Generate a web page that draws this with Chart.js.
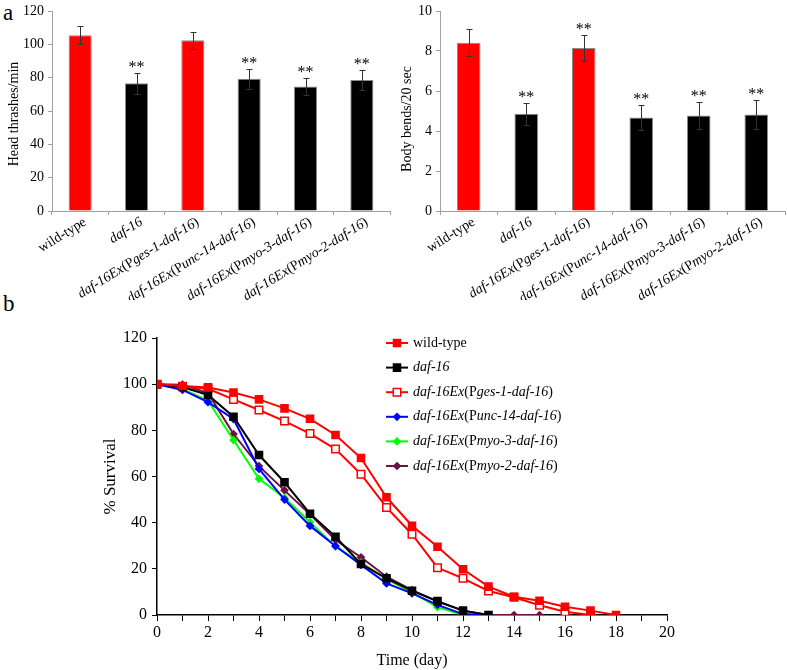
<!DOCTYPE html>
<html><head><meta charset="utf-8">
<script src="https://cdn.jsdelivr.net/npm/chart.js@4.4.0/dist/chart.umd.min.js"></script>
<style>
html,body{margin:0;padding:0;background:#fff;width:787px;height:670px;overflow:hidden;font-family:"Liberation Serif","Times New Roman",serif;}
.box{position:absolute;}
.panel{position:absolute;font-family:"Liberation Serif",serif;font-size:23px;line-height:23px;color:#000;}
</style></head><body>
<div class="panel" style="left:3px;top:1px">a</div>
<div class="panel" style="left:3px;top:292px">b</div>
<div class="box" style="left:0;top:0;width:392px;height:300px"><canvas id="c1"></canvas></div>
<div class="box" style="left:390px;top:0;width:397px;height:300px"><canvas id="c2"></canvas></div>
<div class="box" style="left:0;top:300px;width:787px;height:370px"><canvas id="c3"></canvas></div>
<script>
// ---------- DATA ----------
const strains = ['wild-type','daf-16','daf-16Ex(Pges-1-daf-16)','daf-16Ex(Punc-14-daf-16)','daf-16Ex(Pmyo-3-daf-16)','daf-16Ex(Pmyo-2-daf-16)'];
const headThrashes = [105.5, 76.7, 102.5, 79.4, 74.7, 78.6];
const headThrashesErr = [5.5, 6.3, 5.0, 6.1, 5.3, 6.0];
const headStars = ['', '**', '', '**', '**', '**'];
const bodyBends = [8.41, 4.86, 8.15, 4.68, 4.78, 4.83];
const bodyBendsErr = [0.68, 0.55, 0.65, 0.62, 0.68, 0.72];
const bodyStars = ['', '**', '**', '**', '**', '**'];
const barColors = ['#FF0000','#000000','#FF0000','#000000','#000000','#000000'];

const days = [0,1,2,3,4,5,6,7,8,9,10,11,12,13,14,15,16,17,18];
const survWildType = [100, 99.2, 98.6, 96.4, 93.4, 89.5, 85, 78, 68, 51, 38.7, 29.6, 19.8, 12.3, 7.9, 6.2, 3.6, 1.9, 0];
const survDaf16    = [100, 98.8, 95.3, 85.9, 69.3, 57.5, 43.9, 33.9, 22.1, 15.9, 10.5, 6, 1.9, 0];
const survPges1    = [100, 99, 98, 93.4, 88.8, 84, 78.6, 71.9, 61, 46.6, 35, 20.5, 15.9, 10.4, 7.7, 4.2, 1.4, 0];
const survPunc14   = [100, 97.5, 92.2, 84.9, 63.3, 50, 38.6, 29.9, 21.7, 13.7, 9.4, 4.4, 0.4, 0];
const survPmyo3    = [100, 97.9, 92.8, 75.8, 59, 50.8, 40.2, 29.6, 22.7, 15.5, 9.8, 3.4, 0, 0];
const survPmyo2    = [100, 99.8, 96.1, 78.4, 64.5, 54, 43.6, 32.5, 25, 16.6, 10.8, 5.8, 1.9, 0, 0, 0];
const survTicks = [0,20,40,60,80,100,120];

// ---------- HELPERS ----------
const SERIF = '"Liberation Serif","Times New Roman",serif';
Chart.defaults.font.family = SERIF;
Chart.defaults.color = '#000';

function segments(label){
  if (label === 'wild-type') return [{t:label, it:false}];
  return label.split(/(\(P|\))/).filter(s => s.length).map(s => ({t:s, it: !(s === '(P' || s === ')')}));
}
function drawMixed(ctx, label, x, y, size, align){
  const segs = segments(label);
  let total = 0;
  segs.forEach(s => { ctx.font = (s.it ? 'italic ' : '') + size + 'px ' + SERIF; s.w = ctx.measureText(s.t).width; total += s.w; });
  let cx = align === 'right' ? x - total : x;
  ctx.textAlign = 'left';
  segs.forEach(s => { ctx.font = (s.it ? 'italic ' : '') + size + 'px ' + SERIF; ctx.fillText(s.t, cx, y); cx += s.w; });
}

const rotatedLabels = {
  id: 'rotatedLabels',
  afterDraw(chart, args, o){
    const xs = chart.scales.x, ctx = chart.ctx;
    chart.data.labels.forEach((lab, i) => {
      const px = xs.getPixelForTick(i);
      ctx.save();
      ctx.translate(px + o.dx, xs.top + o.dy);
      ctx.rotate(-o.angle * Math.PI / 180);
      ctx.fillStyle = '#000';
      ctx.textBaseline = 'middle';
      drawMixed(ctx, lab, 0, 0, o.size, 'right');
      ctx.restore();
    });
  }
};

const yTitle = {
  id: 'yTitle',
  afterDraw(chart, args, o){
    const ctx = chart.ctx;
    ctx.save();
    ctx.translate(o.x, o.y);
    ctx.rotate(-Math.PI / 2);
    ctx.fillStyle = '#000';
    ctx.font = o.size + 'px ' + SERIF;
    ctx.textAlign = 'center';
    ctx.textBaseline = 'middle';
    ctx.fillText(o.text, 0, 0);
    ctx.restore();
  }
};

const errorBars = {
  id: 'errorBars',
  afterDatasetsDraw(chart, args, o){
    const meta = chart.getDatasetMeta(0), ys = chart.scales.y, ctx = chart.ctx;
    const vals = chart.data.datasets[0].data;
    meta.data.forEach((bar, i) => {
      const v = vals[i], e = o.errors[i];
      const x = Math.round(bar.x) + 0.5;
      const yt = Math.round(ys.getPixelForValue(v + e)) + 0.5;
      const yb = Math.round(ys.getPixelForValue(v - e)) + 0.5;
      ctx.save();
      ctx.strokeStyle = '#333'; ctx.lineWidth = 1;
      ctx.beginPath();
      ctx.moveTo(x, yt); ctx.lineTo(x, yb);
      ctx.moveTo(x - 3, yt); ctx.lineTo(x + 3, yt);
      ctx.moveTo(x - 3, yb); ctx.lineTo(x + 3, yb);
      ctx.stroke();
      if (o.stars[i]) {
        ctx.fillStyle = '#000';
        ctx.font = '16px ' + SERIF;
        ctx.textAlign = 'center';
        ctx.textBaseline = 'alphabetic';
        ctx.fillText(o.stars[i], bar.x, yt - 2);
      }
      ctx.restore();
    });
  }
};

function barChart(id, values, errs, stars, yMax, yStep, title, axisW, tx, ty){
  return new Chart(document.getElementById(id), {
    type: 'bar',
    data: { labels: strains, datasets: [{ data: values, backgroundColor: barColors, borderColor: '#8a8a8a', borderWidth: 1, barPercentage: 0.41, categoryPercentage: 1 }] },
    options: {
      responsive: true, maintainAspectRatio: false, animation: false,
      events: [],
      layout: { padding: { top: 6, right: 2, left: 0, bottom: 0 } },
      plugins: { legend: { display: false }, tooltip: { enabled: false },
        errorBars: { errors: errs, stars: stars },
        yTitle: { text: title, x: tx, y: ty, size: 14 },
        rotatedLabels: { dx: 5, dy: 10, angle: 32, size: 14 } },
      scales: {
        x: {
          grid: { offset: true, drawOnChartArea: false, drawTicks: true, tickLength: 4, color: '#a0a0a0' },
          border: { color: '#a0a0a0', width: 1 },
          ticks: { display: false },
          afterFit: s => { s.height = 89; }
        },
        y: {
          min: 0, max: yMax,
          grid: { drawOnChartArea: false, drawTicks: true, tickLength: 4, color: '#a0a0a0' },
          border: { color: '#a0a0a0', width: 1 },
          ticks: { stepSize: yStep, font: { size: 14, lineHeight: 1 }, color: '#000', padding: 4 },
          afterFit: s => { s.width = axisW; }
        }
      }
    },
    plugins: [errorBars, rotatedLabels, yTitle]
  });
}

barChart('c1', headThrashes, headThrashesErr, headStars, 120, 20, 'Head thrashes/min', 52, 14, 114);
barChart('c2', bodyBends, bodyBendsErr, bodyStars, 10, 2, 'Body bends/20 sec', 50, 17, 119);

// ---------- SURVIVAL ----------
function pts(vals){ return vals.map((v, i) => ({ x: days[i], y: v })); }
const survSeries = [
  { label: strains[0], vals: survWildType, color: '#FF0000', fill: '#FF0000', style: 'rect', r: 5 },
  { label: strains[1], vals: survDaf16, color: '#000000', fill: '#000000', style: 'rect', r: 5 },
  { label: strains[2], vals: survPges1, color: '#FF0000', fill: '#FFFFFF', style: 'rect', r: 5.3 },
  { label: strains[3], vals: survPunc14, color: '#0000FF', fill: '#0000FF', style: 'rectRot', r: 3.3 },
  { label: strains[4], vals: survPmyo3, color: '#00FF00', fill: '#00FF00', style: 'rectRot', r: 3.3 },
  { label: strains[5], vals: survPmyo2, color: '#6E1246', fill: '#6E1246', style: 'rectRot', r: 3.3 }
];

function marker(ctx, s, x, y){
  ctx.beginPath();
  if (s.style === 'rect') {
    const h = s.r * Math.SQRT1_2;
    ctx.rect(x - h, y - h, 2 * h, 2 * h);
  } else {
    ctx.moveTo(x, y - s.r); ctx.lineTo(x + s.r, y); ctx.lineTo(x, y + s.r); ctx.lineTo(x - s.r, y); ctx.closePath();
  }
  ctx.fillStyle = s.fill; ctx.fill();
  ctx.lineWidth = 1.5; ctx.strokeStyle = s.color; ctx.stroke();
}

const survLegend = {
  id: 'survLegend',
  afterDraw(chart, args, o){
    const ctx = chart.ctx;
    survSeries.forEach((s, i) => {
      const y = o.y0 + i * o.dy;
      ctx.save();
      ctx.strokeStyle = s.color; ctx.lineWidth = 2;
      ctx.beginPath(); ctx.moveTo(o.x0, y); ctx.lineTo(o.x1, y); ctx.stroke();
      marker(ctx, s, (o.x0 + o.x1) / 2, y);
      ctx.fillStyle = '#000'; ctx.textBaseline = 'middle';
      drawMixed(ctx, s.label, o.tx, y, o.size, 'left');
      ctx.restore();
    });
  }
};

new Chart(document.getElementById('c3'), {
  type: 'line',
  data: {
    datasets: survSeries.map(s => ({
      label: s.label, data: pts(s.vals),
      borderColor: s.color, backgroundColor: s.fill,
      pointBackgroundColor: s.fill, pointBorderColor: s.color,
      pointStyle: s.style, pointRadius: s.r, pointBorderWidth: 1.5,
      borderWidth: 2, tension: 0, fill: false
    }))
  },
  options: {
    responsive: true, maintainAspectRatio: false, animation: false, events: [],
    layout: { padding: { top: 38, right: 120, left: 0, bottom: 0 } },
    plugins: { legend: { display: false }, tooltip: { enabled: false },
      survLegend: { x0: 386, x1: 408, tx: 413, y0: 43, dy: 24.6, size: 14 } },
    scales: {
      x: {
        type: 'linear', min: 0, max: 20,
        grid: { drawOnChartArea: false, drawTicks: true, tickLength: 6, color: '#000', lineWidth: 1 },
        border: { color: '#000', width: 1.5 },
        ticks: { stepSize: 1, autoSkip: false, maxRotation: 0, padding: 2, font: { size: 16 }, color: '#000',
          callback: v => (v % 2 === 0 ? String(v) : '') },
        title: { display: true, text: 'Time (day)', font: { size: 16 }, color: '#000', padding: { top: 0, bottom: 0 } },
        afterFit: s => { s.height = 55; }
      },
      y: {
        min: 0, max: 120,
        afterBuildTicks: s => { s.ticks = survTicks.map(v => ({ value: v })); },
        grid: { drawOnChartArea: false, drawTicks: true, tickLength: 5, color: '#000', lineWidth: 1 },
        border: { color: '#000', width: 1.5 },
        ticks: { font: { size: 16, lineHeight: 1 }, color: '#000', padding: 5 },
        title: { display: true, text: '% Survival', font: { size: 17 }, color: '#000', padding: { top: 100, bottom: 0 } },
        afterFit: s => { s.width = 157; }
      }
    }
  },
  plugins: [survLegend]
});
</script>
</body></html>
